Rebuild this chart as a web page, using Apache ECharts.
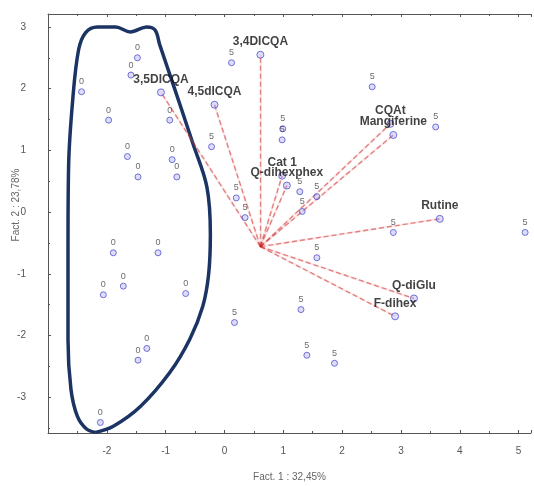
<!DOCTYPE html>
<html>
<head>
<meta charset="utf-8">
<script src="https://cdn.jsdelivr.net/npm/echarts@6/dist/echarts.min.js"></script>
<style>
html,body{margin:0;padding:0;background:#fff;}
#chart{width:534px;height:487px;}
</style>
</head>
<body>
<div id="chart"></div>
<script>
// ---- data ----
var xAxisTitle = 'Fact. 1 : 32,45%';
var yAxisTitle = 'Fact. 2 : 23,78%';

var vectorOrigin = [0.61, -0.56];
var vectorNames = ['3,4DICQA', '4,5dICQA', '3,5DICQA', 'Cat 1', 'Q-dihexphex', 'CQAt', 'Mangiferine', 'Rutine', 'Q-diGlu', 'F-dihex'];
var vectorX = [0.61, -0.17, -1.08, 0.98, 1.06, 2.82, 2.87, 3.66, 3.22, 2.90];
var vectorY = [2.55, 1.74, 1.94, 0.59, 0.43, 1.43, 1.25, -0.11, -1.40, -1.69];

// group "0" samples (inside the outline)
var groupAX = [-1.48, -1.59, -2.43, -1.97, -0.93, -1.65, -1.47, -0.89, -0.81, -1.89, -1.13, -1.72, -2.06, -0.66, -1.32, -1.47, -2.11];
var groupAY = [2.50, 2.22, 1.95, 1.49, 1.49, 0.90, 0.57, 0.85, 0.57, -0.66, -0.66, -1.20, -1.34, -1.32, -2.21, -2.40, -3.41];
var groupALabel = '0';

// group "5" samples
var groupBX = [0.12, -0.22, 0.99, 0.98, 0.20, 0.35, 1.28, 1.57, 1.32, 1.57, 2.87, 2.51, 3.59, 5.11, 1.30, 1.40, 1.87, 0.17];
var groupBY = [2.42, 1.06, 1.35, 1.17, 0.23, -0.09, 0.33, 0.25, 0.01, -0.74, -0.33, 2.03, 1.38, -0.33, -1.58, -2.32, -2.45, -1.79];
var groupBLabel = '5';

// hand-drawn outline around group "0"
var outlineX = [-2.19, -1.89, -1.43, -0.93, -0.59, -0.37, -0.27, -0.24, -0.30, -0.54, -0.88, -1.10, -1.18, -1.32, -1.60, -1.85, -2.16, -2.36, -2.48, -2.58, -2.65, -2.66, -2.66, -2.61, -2.50, -2.34, -2.19];
var outlineY = [-3.57, -3.47, -3.15, -2.60, -2.06, -1.53, -1.01, -0.36, 0.41, 1.12, 2.09, 2.71, 2.95, 3.00, 2.92, 3.00, 3.00, 2.91, 2.63, 1.82, 0.74, -0.61, -2.07, -2.87, -3.31, -3.52, -3.57];

var xMin = -3, xMax = 5.21, yMin = -3.58, yMax = 3.21;

// ---- build ----
function zip(xs, ys) { return xs.map(function (x, i) { return [x, ys[i]]; }); }

var FONT = 'Liberation Sans, Arial, sans-serif';
var axisColor = '#555';
var tickLabelStyle = { color: '#555', fontSize: 10, fontFamily: FONT };
function intFmt(v) { return (Math.abs(v - Math.round(v)) < 1e-6 && v > xMin + 0.01) ? String(Math.round(v)) : ''; }
function intFmtY(v) { return (Math.abs(v - Math.round(v)) < 1e-6) ? String(Math.round(v)) : ''; }

var sampleItem = {
  color: 'rgba(160,160,240,0.45)',
  borderColor: '#5252cc',
  borderWidth: 1
};
var sampleLabel = function (txt) {
  return {
    show: true, position: 'top', distance: 2,
    formatter: txt, color: '#444', fontSize: 9, fontFamily: FONT
  };
};

var vectorLines = vectorNames.map(function (n, i) {
  return { coords: [vectorOrigin, [vectorX[i], vectorY[i]]] };
});
var vectorEnds = vectorNames.map(function (n, i) {
  return { name: n, value: [vectorX[i], vectorY[i]] };
});

var chart = echarts.init(document.getElementById('chart'), null, { renderer: 'canvas' });
chart.setOption({
  animation: false,
  backgroundColor: '#fff',
  grid: { left: 48, right: 0, top: 14, bottom: 53, containLabel: false },
  xAxis: [{
    type: 'value', min: xMin, max: xMax, interval: 1,
    axisLine: { show: true, onZero: false, lineStyle: { color: axisColor, width: 1 } },
    axisTick: { show: true, inside: true, length: 3, lineStyle: { color: axisColor } },
    minorTick: { show: true, splitNumber: 2, length: 2, lineStyle: { color: axisColor } },
    splitLine: { show: false },
    axisLabel: Object.assign({ formatter: intFmt, margin: 13 }, tickLabelStyle),
    name: xAxisTitle, nameLocation: 'middle', nameGap: 39,
    nameTextStyle: { color: '#666', fontSize: 10, fontFamily: FONT }
  }, {
    type: 'value', min: xMin, max: xMax, interval: 1, position: 'top',
    axisLine: { show: true, onZero: false, lineStyle: { color: axisColor, width: 1 } },
    axisTick: { show: true, inside: true, length: 3, lineStyle: { color: axisColor } },
    minorTick: { show: true, splitNumber: 2, length: 2, lineStyle: { color: axisColor } },
    splitLine: { show: false },
    axisLabel: { show: false }
  }],
  yAxis: {
    type: 'value', min: yMin, max: yMax, splitNumber: 7,
    axisLine: { show: true, onZero: false, lineStyle: { color: axisColor, width: 1 } },
    axisTick: { show: true, inside: true, length: 3, lineStyle: { color: axisColor } },
    minorTick: { show: true, splitNumber: 2, length: 2, lineStyle: { color: axisColor } },
    splitLine: { show: false },
    axisLabel: Object.assign({ formatter: intFmtY, margin: 22 }, tickLabelStyle)
  },
  graphic: [{
    type: 'text', x: 16, y: 205, rotation: Math.PI / 2,
    style: {
      text: yAxisTitle, fill: '#666', fontSize: 10, fontFamily: FONT,
      align: 'center', verticalAlign: 'middle'
    }
  }],
  series: [
    {
      type: 'line', data: zip(outlineX, outlineY), smooth: 0.35,
      symbol: 'none', silent: true, z: 3,
      lineStyle: { color: '#1b3464', width: 3.5 }
    },
    {
      type: 'lines', coordinateSystem: 'cartesian2d', data: vectorLines, z: 4, silent: true,
      lineStyle: { color: 'rgba(235,130,130,0.35)', width: 2.2, type: 'solid' }
    },
    {
      type: 'lines', coordinateSystem: 'cartesian2d', data: vectorLines, z: 5, silent: true,
      lineStyle: { color: '#cc1a1a', width: 1.4, type: [5, 3] }
    },
    {
      type: 'scatter', data: zip(groupAX, groupAY), symbol: 'circle', symbolSize: 6, z: 6,
      itemStyle: sampleItem, label: sampleLabel(groupALabel)
    },
    {
      type: 'scatter', data: zip(groupBX, groupBY), symbol: 'circle', symbolSize: 6, z: 6,
      itemStyle: sampleItem, label: sampleLabel(groupBLabel)
    },
    {
      type: 'scatter', data: vectorEnds, symbol: 'circle', symbolSize: 7, z: 7,
      itemStyle: sampleItem,
      label: {
        show: true, position: 'top', distance: 3, formatter: '{b}',
        color: '#111', fontSize: 12, fontWeight: 'bold', fontFamily: FONT
      }
    }
  ]
});
</script>
</body>
</html>
